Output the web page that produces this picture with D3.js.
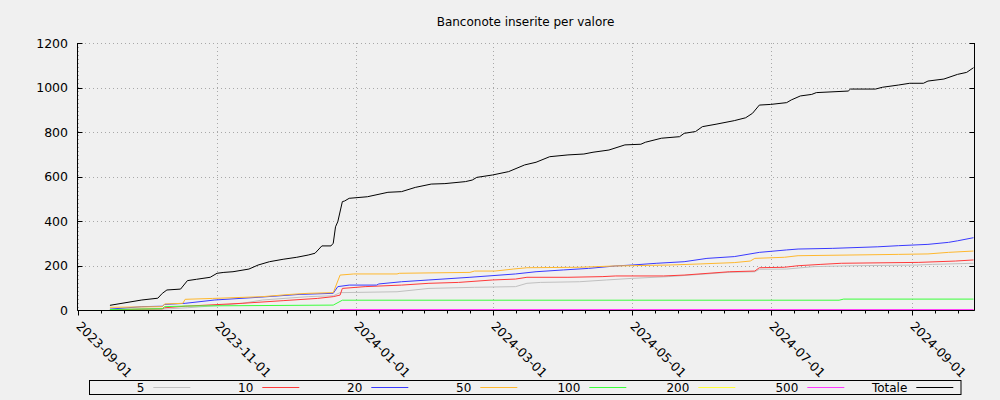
<!DOCTYPE html>
<html><head><meta charset="utf-8">
<script src="https://cdn.jsdelivr.net/npm/d3@7"></script>
<style>
body{margin:0;background:#f0f0f0;}
svg{display:block;}
text{font-family:"DejaVu Sans",sans-serif;fill:#000;}
</style>
</head><body>
<svg id="chart" width="1000" height="400"></svg>
<script>
const chartTitle = "Banconote inserite per valore";
const seriesNames = ["5","10","20","50","100","200","500","Totale"];
const seriesColors = ["#c0c0c0","#ff3a3a","#3a3aff","#ffb82e","#3aff3a","#ffff3a","#ff3aff","#000000"];
const yTickValues = [0,200,400,600,800,1000,1200];
const xTickLabels = ["2023-09-01","2023-11-01","2024-01-01","2024-03-01","2024-05-01","2024-07-01","2024-09-01"];
const xDomain = ["2023-08-31T13:00","2024-09-28T05:00"];

const serie5 = [["2023-09-15",2],["2023-10-08",4],["2023-10-19",10],["2023-11-01",20],["2023-11-12",30],["2023-11-21",45],["2023-12-11",60],["2023-12-22",64],["2023-12-25",78],["2024-01-19",82],["2024-02-02",97],["2024-02-22",102],["2024-03-11",105],["2024-03-16",120],["2024-03-22",124],["2024-04-08",127],["2024-04-20",135],["2024-05-01",142],["2024-05-17",150],["2024-05-31",160],["2024-06-12",169],["2024-06-24",172],["2024-06-26",183],["2024-07-08",184],["2024-07-20",195],["2024-08-06",199],["2024-09-03",202],["2024-09-10",205],["2024-09-28",210]];
const serie10 = [["2023-09-15",1],["2023-09-29",4],["2023-10-08",5],["2023-10-09",10],["2023-10-18",17],["2023-11-12",30],["2023-11-30",42],["2023-12-15",52],["2023-12-22",60],["2023-12-25",67],["2023-12-26",97],["2024-01-05",105],["2024-01-21",112],["2024-02-02",120],["2024-02-15",124],["2024-03-01",135],["2024-03-11",139],["2024-03-16",147],["2024-04-03",147],["2024-04-18",150],["2024-04-24",153],["2024-05-15",153],["2024-05-24",157],["2024-06-13",172],["2024-06-24",175],["2024-06-26",190],["2024-07-07",192],["2024-07-13",199],["2024-07-23",205],["2024-08-01",210],["2024-09-04",214],["2024-09-20",220],["2024-09-28",225]];
const serie20 = [["2023-09-15",4],["2023-09-29",15],["2023-10-08",17],["2023-10-09",25],["2023-10-18",30],["2023-10-31",45],["2023-11-19",57],["2023-12-07",70],["2023-12-22",75],["2023-12-24",105],["2023-12-29",112],["2024-01-10",112],["2024-01-11",117],["2024-01-21",127],["2024-02-02",135],["2024-02-20",147],["2024-03-11",162],["2024-03-20",172],["2024-04-01",180],["2024-04-12",187],["2024-04-24",198],["2024-05-01",202],["2024-05-12",210],["2024-05-24",217],["2024-06-03",232],["2024-06-15",240],["2024-06-26",259],["2024-07-08",270],["2024-07-13",274],["2024-07-28",277],["2024-08-17",284],["2024-08-26",289],["2024-09-08",295],["2024-09-17",304],["2024-09-21",311],["2024-09-28",325]];
const serie50 = [["2023-09-15",12],["2023-10-08",15],["2023-10-09",27],["2023-10-17",30],["2023-10-18",48],["2023-10-30",52],["2023-11-21",60],["2023-12-03",70],["2023-12-11",75],["2023-12-22",78],["2023-12-25",157],["2023-12-31",162],["2024-01-19",162],["2024-01-20",165],["2024-02-20",169],["2024-02-22",175],["2024-03-02",175],["2024-03-10",184],["2024-03-16",190],["2024-04-08",192],["2024-04-24",198],["2024-05-17",202],["2024-05-31",207],["2024-06-15",213],["2024-06-22",220],["2024-06-24",232],["2024-07-07",237],["2024-07-13",244],["2024-08-26",250],["2024-09-08",252],["2024-09-17",259],["2024-09-28",265]];
const serie100 = [["2023-09-15",2],["2023-10-08",6],["2023-10-09",15],["2023-10-19",18],["2023-12-22",22],["2023-12-26",44],["2024-07-31",44],["2024-08-02",49],["2024-09-28",49]];
const serie200 = [["2023-12-25",2],["2024-09-28",2]];
const serie500 = [["2023-12-25",2],["2024-09-28",2]];
const serieTotale = [["2023-09-15",21],["2023-09-29",45],["2023-10-06",53],["2023-10-08",75],["2023-10-10",90],["2023-10-16",94],["2023-10-19",132],["2023-10-23",138],["2023-10-29",147],["2023-11-01",165],["2023-11-04",169],["2023-11-08",172],["2023-11-15",184],["2023-11-19",202],["2023-11-24",217],["2023-11-30",228],["2023-12-06",237],["2023-12-11",247],["2023-12-14",255],["2023-12-17",288],["2023-12-21",288],["2023-12-22",300],["2023-12-23",374],["2023-12-24",397],["2023-12-26",487],["2023-12-27",490],["2023-12-29",502],["2024-01-06",509],["2024-01-15",529],["2024-01-21",532],["2024-01-27",551],["2024-02-03",566],["2024-02-09",568],["2024-02-18",577],["2024-02-21",584],["2024-02-23",596],["2024-03-01",607],["2024-03-08",622],["2024-03-15",652],["2024-03-20",664],["2024-03-26",689],["2024-04-03",697],["2024-04-10",701],["2024-04-14",709],["2024-04-21",719],["2024-04-28",742],["2024-05-05",745],["2024-05-07",754],["2024-05-14",772],["2024-05-22",779],["2024-05-24",794],["2024-05-29",802],["2024-06-01",824],["2024-06-07",835],["2024-06-15",851],["2024-06-20",864],["2024-06-23",884],["2024-06-26",921],["2024-07-01",924],["2024-07-08",932],["2024-07-10",944],["2024-07-14",962],["2024-07-19",969],["2024-07-21",977],["2024-08-04",984],["2024-08-05",993],["2024-08-16",993],["2024-08-19",1001],["2024-08-26",1011],["2024-08-31",1019],["2024-09-06",1019],["2024-09-08",1029],["2024-09-15",1038],["2024-09-21",1059],["2024-09-25",1068],["2024-09-28",1089]];

const allSeries = [serie5, serie10, serie20, serie50, serie100, serie200, serie500, serieTotale];

// layout
const L = 77, R = 974, T = 43, B = 310;
const svg = d3.select("#chart");
svg.append("rect").attr("width",1000).attr("height",400).attr("fill","#f0f0f0");

const parseDay = d3.utcParse("%Y-%m-%d");
const parseDT = d3.utcParse("%Y-%m-%dT%H:%M");
const x = d3.scaleUtc().domain(xDomain.map(parseDT)).range([L, R]);
const y = d3.scaleLinear().domain([0,1200]).range([B, T]);
const px = v => Math.round(v) + 0.5;

// title
svg.append("text").attr("x",(L+R)/2).attr("y",26).attr("text-anchor","middle")
  .style("font-size","12px").text(chartTitle);

// grid
const majorDates = xTickLabels.map(parseDay);
const grid = svg.append("g").attr("stroke","#a8a8a8").attr("stroke-width",1).attr("stroke-dasharray","1,3");
yTickValues.filter(v=>v>0).forEach(v=>{
  grid.append("line").attr("x1",L).attr("x2",R).attr("y1",px(y(v))).attr("y2",px(y(v)));
});
majorDates.forEach(d=>{
  grid.append("line").attr("x1",px(x(d))).attr("x2",px(x(d))).attr("y1",T).attr("y2",B);
});

// series
const line = d3.line().x(d=>x(parseDay(d[0]))).y(d=>y(d[1]));
svg.append("clipPath").attr("id","clip").append("rect").attr("x",L).attr("y",T).attr("width",R-L+1).attr("height",B-T);
const plot = svg.append("g").attr("clip-path","url(#clip)");
allSeries.forEach((s,i)=>{
  plot.append("path").attr("d",line(s)).attr("fill","none")
    .attr("stroke",seriesColors[i]).attr("stroke-width",1);
});

// axes
const ax = svg.append("g").attr("stroke","#000").attr("stroke-width",1).attr("fill","none");
ax.append("line").attr("x1",px(L)).attr("x2",px(L)).attr("y1",T).attr("y2",px(B));
ax.append("line").attr("x1",px(L)).attr("x2",px(R)).attr("y1",px(B)).attr("y2",px(B));
ax.append("line").attr("x1",px(R)).attr("x2",px(R)).attr("y1",T).attr("y2",px(B));

// y ticks
yTickValues.forEach(v=>{
  const yy = px(y(v));
  ax.append("line").attr("x1",px(L)).attr("x2",px(L)+5).attr("y1",yy).attr("y2",yy);
  ax.append("line").attr("x1",px(R)).attr("x2",px(R)-5).attr("y1",yy).attr("y2",yy);
  svg.append("text").attr("x",68).attr("y",y(v)+4.5).attr("text-anchor","end")
    .style("font-size","12.5px").text(d3.format("d")(v));
});

// x ticks (major + minor)
const monthTicks = d3.utcMonth.every(2).range(parseDay("2023-07-01"), parseDay("2025-01-01"));
for (let i=0;i<monthTicks.length-1;i++){
  const a = monthTicks[i].getTime(), b = monthTicks[i+1].getTime();
  for (let k=1;k<6;k++){
    const d = new Date(a + (b-a)*k/6);
    const xx = x(d);
    if (xx > L+1 && xx < R-1) ax.append("line").attr("x1",px(xx)).attr("x2",px(xx)).attr("y1",px(B)).attr("y2",px(B)+3);
  }
}
majorDates.forEach((d,i)=>{
  const xx = px(x(d));
  ax.append("line").attr("x1",xx).attr("x2",xx).attr("y1",px(B)).attr("y2",px(B)+5);
  svg.append("text").attr("transform",`translate(${xx-3},327) rotate(45)`)
    .style("font-size","12.5px").text(xTickLabels[i]);
});

// legend
const lg = svg.append("g");
lg.append("rect").attr("x",89.5).attr("y",380.5).attr("width",871.5).attr("height",14)
  .attr("fill","none").attr("stroke","#000");
seriesNames.forEach((n,i)=>{
  const te = 144.3 + 109*i;
  lg.append("text").attr("x",te).attr("y",391.8).attr("text-anchor","end").style("font-size","12px").text(n);
  lg.append("line").attr("x1",te+9).attr("x2",te+46).attr("y1",387.5).attr("y2",387.5)
    .attr("stroke",seriesColors[i]).attr("stroke-width",1);
});
</script>
</body></html>
